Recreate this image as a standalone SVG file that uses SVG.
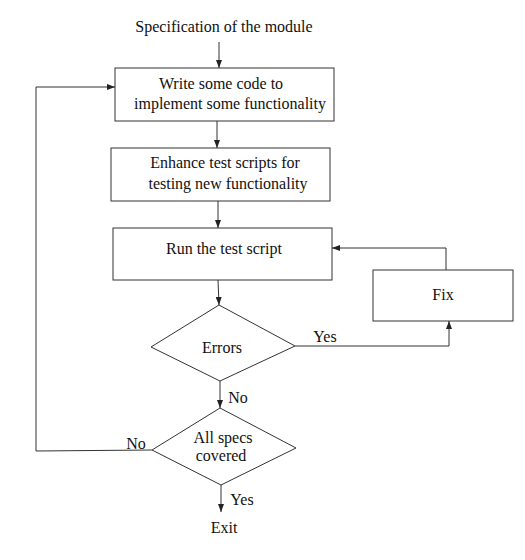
<svg xmlns="http://www.w3.org/2000/svg" width="525" height="560" viewBox="0 0 525 560">
<defs>
<marker id="ah" viewBox="0 0 8 6" refX="8" refY="3" markerWidth="8" markerHeight="6" markerUnits="userSpaceOnUse" orient="auto">
<path d="M0,0 L8,3 L0,6 z" fill="#222"/>
</marker>
</defs>
<style>
text{font-family:"Liberation Serif","Times New Roman",serif;font-size:16px;fill:#111;text-anchor:middle}
.box{fill:#fff;stroke:#333;stroke-width:1}
.ln{fill:none;stroke:#333;stroke-width:1}
.arr{fill:none;stroke:#333;stroke-width:1;marker-end:url(#ah)}
</style>
<rect width="525" height="560" fill="#fff"/>
<g id="start"><text x="224" y="32">Specification of the module</text></g>
<g id="write"><rect class="box" x="115" y="68" width="219" height="53"/>
<text x="221" y="89">Write some code to</text><text x="230" y="109">implement some functionality</text></g>
<g id="enhance"><rect class="box" x="111" y="148" width="219" height="53"/>
<text x="225" y="168">Enhance test scripts for</text><text x="228" y="189">testing new functionality</text></g>
<g id="run"><rect class="box" x="113" y="228" width="219" height="52"/>
<text x="224" y="254">Run the test script</text></g>
<g id="fix"><rect class="box" x="373" y="270" width="140" height="51"/>
<text x="443" y="300">Fix</text></g>
<g id="errors"><path class="box" d="M219,305 L295,346 L220,381 L151,347 Z"/>
<text x="222" y="353">Errors</text></g>
<g id="specs"><path class="box" d="M220,408 L296,448 L221,485 L152,450 Z"/>
<text x="223" y="443">All specs</text><text x="221" y="461">covered</text></g>
<g id="exit"><text x="224" y="533">Exit</text></g>
<g id="connectors">
<line class="arr" x1="219" y1="42" x2="219" y2="68"/>
<line class="arr" x1="217" y1="121" x2="217" y2="148"/>
<line class="arr" x1="218" y1="201" x2="218" y2="228"/>
<line class="arr" x1="218" y1="280" x2="219" y2="305"/>
<line class="ln" x1="295" y1="346" x2="449" y2="346"/>
<line class="arr" x1="449" y1="346" x2="449" y2="321"/>
<polyline class="arr" points="446,270 446,248 332,248"/>
<line class="arr" x1="220" y1="381" x2="220" y2="408"/>
<polyline class="arr" points="152,450 36,451 36,87 115,87"/>
<line class="arr" x1="221" y1="485" x2="221" y2="512"/>
<text x="325" y="342">Yes</text>
<text x="238" y="403">No</text>
<text x="136" y="449">No</text>
<text x="242" y="505">Yes</text>
</g>
</svg>
